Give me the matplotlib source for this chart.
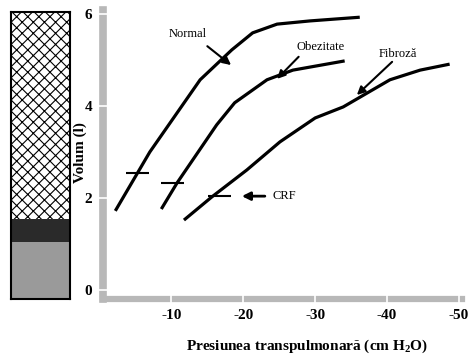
import matplotlib
matplotlib.use("Agg")
import matplotlib.pyplot as plt

plt.rcParams['axes.unicode_minus'] = False
plt.rcParams['mathtext.fontset'] = 'custom'
plt.rcParams['mathtext.rm'] = 'Liberation Serif:bold'
plt.rcParams['mathtext.it'] = 'Liberation Serif:bold'
plt.rcParams['mathtext.bf'] = 'Liberation Serif:bold'
plt.rcParams['mathtext.default'] = 'rm'
plt.rcParams['hatch.linewidth'] = 0.8

# ---- data ----
normal_x = [-2.2, -7.0, -14.0, -18.4, -21.3, -24.7, -29.3, -36.2]
normal_y = [1.72, 3.0, 4.57, 5.22, 5.59, 5.78, 5.85, 5.93]
obez_x = [-8.6, -10.8, -16.3, -18.8, -23.3, -26.9, -34.1]
obez_y = [1.76, 2.33, 3.59, 4.07, 4.57, 4.78, 4.98]
fibr_x = [-11.75, -15.6, -20.5, -25.1, -30.0, -33.9, -40.4, -44.6, -48.7]
fibr_y = [1.52, 2.02, 2.61, 3.22, 3.74, 3.98, 4.57, 4.78, 4.91]

crf_x = [-5.35, -10.2, -16.7]
crf_y = [2.55, 2.33, 2.04]

labels = ["Normal", "Obezitate", "Fibroză"]
label_pos = [(-12.3, 5.57), (-30.7, 5.28), (-41.5, 5.13)]
arrow_tail = [(-15.0, 5.30), (-27.7, 5.07), (-40.7, 4.96)]
arrow_head = [(-18.3, 4.89), (-24.7, 4.59), (-35.8, 4.24)]
crf_arrow_tail = (-23.0, 2.04)
crf_arrow_head = (-19.8, 2.04)

x_ticks = [-10, -20, -30, -40, -50]
y_ticks = [0, 2, 4, 6]

vol_bounds = [0, 1.2, 1.68, 6.04]

# ---- figure ----
W, H = 472, 359
fig = plt.figure(figsize=(W / 100, H / 100), dpi=100)

ax = fig.add_axes([102.5 / W, 1 - 299 / H, (462 - 102.5) / W, (299 - 10) / H])
ax.set_xlim(-0.42, -50.42)
ax.set_ylim(-0.196, 6.087)

for s in ['top', 'right']:
    ax.spines[s].set_visible(False)
ax.spines['left'].set_color('#b8b8b8')
ax.spines['left'].set_linewidth(5.5)
ax.spines['bottom'].set_color('#b8b8b8')
ax.spines['bottom'].set_linewidth(4.5)
ax.set_axisbelow(False)

ax.set_xticks(x_ticks)
ax.set_yticks(y_ticks)
ax.set_xticklabels([str(v) for v in x_ticks])
ax.set_yticklabels([str(v) for v in y_ticks])
ax.tick_params(axis='both', direction='inout', length=8, width=1.2, colors='white',
               labelcolor='black', labelsize=11, pad=3.5)
for lab in ax.get_xticklabels() + ax.get_yticklabels():
    lab.set_fontfamily('Liberation Serif')
    lab.set_fontweight('bold')

lw = 2.3
ax.plot(normal_x, normal_y, color='black', lw=lw, solid_capstyle='butt')
ax.plot(obez_x, obez_y, color='black', lw=lw, solid_capstyle='butt')
ax.plot(fibr_x, fibr_y, color='black', lw=lw, solid_capstyle='butt')

ax.hlines(crf_y, [x + 1.6 for x in crf_x], [x - 1.6 for x in crf_x], color='black', lw=1.5)

for lab, lp, t, h in zip(labels, label_pos, arrow_tail, arrow_head):
    ax.text(lp[0], lp[1], lab, ha='center', va='center', fontsize=9,
            fontfamily='Liberation Serif')
    ax.annotate('', xy=h, xytext=t,
                arrowprops=dict(arrowstyle='-|>', color='black', lw=1.5,
                                mutation_scale=12, shrinkA=0, shrinkB=0))

ax.annotate('', xy=crf_arrow_head, xytext=crf_arrow_tail,
            arrowprops=dict(arrowstyle='-|>', color='black', lw=2,
                            mutation_scale=12, shrinkA=0, shrinkB=0))
ax.text(crf_arrow_tail[0] - 1.1, crf_arrow_tail[1], "CRF", ha='left', va='center',
        fontsize=9, fontfamily='Liberation Serif')

fig.text(307 / W, 1 - 346 / H, "Presiunea transpulmonară (cm H$_2$O)", ha='center', va='center',
         fontsize=11, fontfamily='Liberation Serif', fontweight='bold')
fig.text(80 / W, 1 - 153 / H, "Volum (l)", ha='center', va='center', rotation=90,
         fontsize=11, fontfamily='Liberation Serif', fontweight='bold')

# ---- left volume bar ----
ax2 = fig.add_axes([11 / W, 1 - 299 / H, 59 / W, 287 / H])
ax2.set_xlim(-0.5, 0.5)
ax2.set_ylim(vol_bounds[0], vol_bounds[-1])
ax2.set_xticks([])
ax2.set_yticks([])
for s in ax2.spines.values():
    s.set_linewidth(1.5)
    s.set_color('black')

seg_bottom = vol_bounds[:-1]
seg_height = [b - a for a, b in zip(vol_bounds[:-1], vol_bounds[1:])]
seg_face = ['#9a9a9a', '#2a2a2a', 'white']
seg_hatch = [None, None, 'xxx']
seg_hcolor = ['#9a9a9a', '#2a2a2a', 'black']
for b, h, fc, hat, hc in zip(seg_bottom, seg_height, seg_face, seg_hatch, seg_hcolor):
    ax2.bar(0, h, bottom=b, width=1.0, color=fc, edgecolor=hc, hatch=hat, linewidth=0)

fig.savefig('out.png', dpi=100)
